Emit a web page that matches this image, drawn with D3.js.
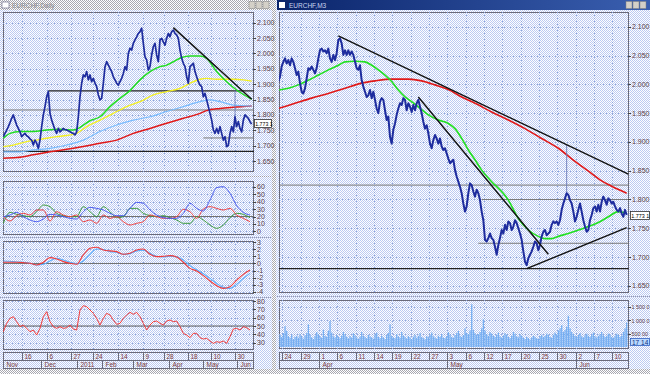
<!DOCTYPE html>
<html><head><meta charset="utf-8">
<script src="https://cdn.jsdelivr.net/npm/d3@7"></script>
<style>body{margin:0;background:#fff}svg{display:block}text{font-family:"Liberation Sans",Arial,sans-serif}</style>
</head><body><svg id="c" width="650" height="374"></svg>
<script>
// ---------------- DATA ----------------
// Left window (daily, Nov 2010 - Jun 2011), price samples on bar index 0..149
const leftClose=[
1.729,1.740,1.750,1.762,1.775,1.789,1.800,1.783,1.767,1.756,
1.745,1.729,1.735,1.740,1.732,1.729,1.722,1.718,1.702,1.718,
1.708,1.691,1.718,1.762,1.800,1.827,1.859,1.876,1.805,1.783,
1.767,1.751,1.740,1.756,1.745,1.750,1.756,1.752,1.751,1.748,
1.745,1.742,1.740,1.735,1.745,1.794,1.859,1.903,1.930,1.924,
1.941,1.914,1.930,1.908,1.919,1.903,1.892,1.865,1.849,1.854,
1.903,1.957,1.973,1.962,1.951,1.941,1.924,1.914,1.903,1.897,
1.908,1.919,1.935,1.957,1.946,2.000,2.017,2.011,2.033,2.044,
2.054,2.065,2.071,2.082,2.033,1.989,1.979,1.946,1.957,1.995,
2.022,2.033,1.995,1.973,2.044,2.049,2.038,2.027,2.049,2.065,
2.054,2.071,2.076,2.065,2.060,2.049,2.011,1.984,1.968,1.957,
1.924,1.903,1.957,1.962,1.968,1.941,1.924,1.908,1.897,1.892,
1.859,1.870,1.849,1.827,1.805,1.783,1.751,1.740,1.756,1.740,
1.762,1.740,1.718,1.729,1.697,1.702,1.740,1.762,1.745,1.794,
1.762,1.778,1.756,1.745,1.783,1.800,1.794,1.789,1.778,1.770];
const leftSpike={bar:139,lo:1.762,hi:1.880};
const maGreenLBars=[0,4,10,18,26,34,42,45,48,52,58,64,70,76,82,88,94,98,102,107,112,118,122,128,134,140,149];
const maGreenL=[1.724,1.740,1.746,1.746,1.751,1.753,1.751,1.756,1.767,1.781,1.794,1.827,1.854,1.879,1.914,1.941,1.957,1.962,1.973,1.987,1.992,1.992,1.984,1.941,1.908,1.881,1.851];
const maYellowLBars=[0,6,14,20,26,32,38,44,50,58,66,74,82,90,98,106,112,118,122,128,138,144,149];
const maYellowL=[1.697,1.702,1.713,1.718,1.724,1.729,1.733,1.740,1.762,1.783,1.805,1.827,1.843,1.865,1.876,1.886,1.903,1.916,1.919,1.916,1.916,1.914,1.910];
const maBlueLBars=[0,10,18,28,38,48,58,68,78,88,98,108,118,124,130,138,149];
const maBlueL=[1.680,1.680,1.686,1.691,1.702,1.718,1.746,1.767,1.783,1.794,1.811,1.827,1.843,1.849,1.843,1.832,1.829];
const maRedLBars=[0,8,18,28,38,48,58,68,78,88,98,108,118,122,130,138,149];
const maRedL=[1.659,1.661,1.670,1.680,1.688,1.697,1.708,1.718,1.740,1.756,1.773,1.789,1.805,1.814,1.821,1.825,1.829];
const trendL=[{bar:102,v:2.084},{bar:149,v:1.851}];
const levelsL=[{v:1.878,from:27,to:149,dark:true},{v:1.816,from:0,to:149,dark:false},{v:1.725,from:120,to:149,dark:false},{v:1.681,from:0,to:149,dark:true}];
const priceTicksL=[2.100,2.050,2.000,1.950,1.900,1.850,1.800,1.750,1.700,1.650];
// indicators (one value every 4 bars for DMI/MACD, every 2 bars for RSI)
const adxBlue=[19.8,22.0,25.6,19.8,15.3,13.0,16.6,22.9,22.0,19.8,17.5,16.6,26.5,32.4,31.0,28.8,24.3,21.1,21.1,31.0,39.1,37.8,28.8,22.0,18.4,17.5,17.5,24.3,37.8,31.0,27.4,42.3,59.0,60.3,51.3,34.6,25.6,22.0];
const adxRed=[19.8,13.9,21.1,24.3,22.0,28.8,28.8,13.9,26.5,22.0,19.8,22.0,13.0,15.3,10.8,22.0,17.5,19.8,13.0,8.5,10.8,13.0,22.0,19.8,17.5,17.5,19.8,29.7,26.5,17.5,30.1,33.3,31.0,28.8,31.0,22.0,17.5,13.0];
const adxGreen=[10.8,25.6,22.9,21.1,19.8,26.5,35.5,33.3,24.3,21.1,19.8,19.8,33.3,26.5,19.8,33.3,26.5,18.4,19.8,31.0,31.0,24.3,21.1,19.8,21.1,18.4,15.3,10.8,10.8,19.8,15.3,8.5,4.0,8.5,18.4,24.3,22.9,18.4];
const adxTicks=[60,50,40,30,20,10,0];
const macdRed=[0.17,0.17,0.17,0.12,0.02,-0.21,0.17,0.83,0.64,0.26,0.02,-0.12,1.21,2.16,2.30,1.92,1.78,1.68,1.30,1.45,1.92,2.06,1.30,0.97,1.02,1.11,0.92,0.17,-0.69,-1.07,-1.73,-2.49,-3.15,-3.53,-3.29,-2.35,-1.54,-0.92];
const macdBlue=[0.36,0.31,0.21,0.17,0.02,-0.21,-0.12,0.36,0.73,0.50,0.17,-0.02,0.36,1.30,2.06,1.97,1.68,1.59,1.30,1.40,1.78,1.87,1.45,1.02,0.92,1.02,0.92,0.50,-0.31,-0.88,-1.45,-2.11,-2.82,-3.39,-3.53,-2.96,-2.11,-1.40];
const macdTicks=[3,2,1,0,-1,-2,-3,-4];
const rsi=[43.2,53.2,59.2,61.2,55.2,49.2,51.2,47.2,43.2,45.2,39.2,47.2,61.2,67.2,55.2,49.2,47.2,49.2,47.2,48.0,51.2,46.4,45.2,69.2,74.4,73.2,69.2,65.2,59.2,51.2,59.2,65.2,63.2,57.2,52.0,53.2,59.2,63.2,66.4,64.0,66.4,61.2,53.2,45.2,51.2,55.2,56.0,53.2,51.2,56.0,57.2,55.2,56.0,49.2,41.2,39.2,36.0,41.2,41.2,36.0,34.4,35.2,32.0,29.2,31.2,30.4,32.0,29.2,37.2,46.4,47.2,45.2,49.2,48.0,45.2];
const rsiTicks=[80,70,60,50,40,30];
const dayTicksL=[{t:"16",bar:11},{t:"6",bar:26},{t:"27",bar:40.4},{t:"24",bar:54},{t:"14",bar:69},{t:"9",bar:83.6},{t:"28",bar:96.4},{t:"18",bar:111},{t:"10",bar:124.4},{t:"30",bar:139}];
const monthTicksL=[{t:"Nov",bar:-0.5},{t:"Dec",bar:22.4},{t:"2011",bar:44.4},{t:"Feb",bar:59.2},{t:"Mar",bar:77.8},{t:"Apr",bar:99.4},{t:"May",bar:119.6},{t:"Jun",bar:140}];

// Right window (EURCHF), bar index 0..209
const rightClose=[
2.005,2.013,2.031,2.039,2.045,2.036,2.042,2.033,2.045,2.039,
2.028,2.016,2.022,2.002,1.987,1.984,1.993,2.010,2.028,2.025,
2.031,2.025,2.019,2.028,2.045,2.059,2.062,2.057,2.059,2.054,
2.062,2.045,2.039,2.051,2.042,2.054,2.077,2.080,2.071,2.051,
2.059,2.051,2.059,2.051,2.057,2.051,2.039,2.028,2.025,2.033,
2.007,1.996,1.987,1.978,1.981,1.990,1.976,1.987,1.973,1.958,
1.950,1.970,1.976,1.973,1.955,1.938,1.944,1.909,1.897,1.921,
1.932,1.947,1.958,1.967,1.964,1.976,1.973,1.955,1.967,1.961,
1.952,1.964,1.955,1.967,1.973,1.961,1.950,1.935,1.923,1.929,
1.915,1.897,1.889,1.903,1.912,1.906,1.897,1.906,1.892,1.886,
1.889,1.880,1.871,1.863,1.866,1.869,1.851,1.840,1.831,1.822,
1.811,1.793,1.779,1.788,1.811,1.828,1.825,1.814,1.805,1.817,
1.811,1.799,1.779,1.764,1.730,1.727,1.733,1.741,1.733,1.730,
1.718,1.704,1.721,1.733,1.747,1.741,1.756,1.747,1.762,1.759,
1.747,1.753,1.764,1.759,1.750,1.741,1.730,1.710,1.692,1.686,
1.698,1.704,1.710,1.718,1.727,1.724,1.712,1.721,1.736,1.744,
1.747,1.738,1.741,1.744,1.756,1.762,1.759,1.762,1.756,1.764,
1.782,1.793,1.802,1.811,1.808,1.799,1.793,1.779,1.762,1.770,
1.782,1.793,1.779,1.764,1.753,1.744,1.747,1.764,1.773,1.785,
1.788,1.779,1.791,1.779,1.796,1.805,1.799,1.791,1.802,1.799,
1.793,1.796,1.788,1.782,1.779,1.785,1.776,1.770,1.782,1.773];
const rightSpike={bar:173,lo:1.808,hi:1.895};
const maGreenRBars=[0,6,12,18,24,30,36,40,46,52,56,60,64,68,72,76,80,84,90,96,102,106,110,114,118,122,127,138,144,150,156,160,164,168,174,180,186,192,198,204,209];
const maGreenR=[1.990,1.993,1.999,2.007,2.016,2.025,2.033,2.039,2.040,2.039,2.033,2.025,2.016,2.005,1.990,1.978,1.970,1.961,1.947,1.938,1.932,1.923,1.906,1.886,1.869,1.851,1.834,1.799,1.767,1.747,1.736,1.732,1.732,1.736,1.741,1.747,1.753,1.760,1.770,1.779,1.776];
const maRedRBars=[0,10,20,30,40,50,58,68,78,86,94,102,110,118,128,138,148,158,168,178,188,193,200,209];
const maRedR=[1.958,1.967,1.976,1.984,1.993,2.002,2.006,2.009,2.009,2.006,1.999,1.991,1.978,1.967,1.952,1.938,1.923,1.906,1.889,1.866,1.845,1.834,1.823,1.811];
const trendsR=[[{bar:36,v:2.084},{bar:210,v:1.844}],[{bar:84,v:1.978},{bar:162,v:1.705}],[{bar:149,v:1.680},{bar:209,v:1.751}]];
const levelsR=[{v:1.825,from:0,to:209,dark:false},{v:1.800,from:122,to:209,dark:false},{v:1.724,from:120,to:209,dark:false},{v:1.680,from:0,to:209,dark:true}];
const priceTicksR=[2.100,2.050,2.000,1.950,1.900,1.850,1.800,1.750,1.700,1.650];
const volume=[
320,450,380,520,780,600,410,350,460,300,
380,420,350,480,390,310,440,520,850,460,
360,300,420,560,480,390,340,650,420,380,
610,980,540,400,360,450,380,330,420,560,
470,380,320,410,350,520,440,360,300,390,
560,420,380,330,450,400,360,310,470,540,
380,330,420,360,300,450,520,850,410,360,
330,480,400,350,560,430,380,320,410,360,
300,390,460,350,420,520,380,330,290,410,
370,450,540,400,360,310,420,380,480,350,
330,410,560,470,380,340,450,520,600,420,
380,450,700,520,480,620,1600,640,520,450,
480,560,700,1040,620,480,420,560,500,420,
380,460,540,400,350,430,520,460,380,330,
420,560,500,400,360,480,420,350,300,380,
340,280,360,420,380,330,300,400,460,380,
420,500,460,380,340,460,540,480,620,700,
820,560,640,760,1170,700,560,480,420,380,
450,520,400,360,440,500,420,380,460,540,
400,360,420,480,560,440,380,420,500,460,
380,340,420,500,450,380,420,560,700,920];
// volume axis labels as they show at the window edge
const volTicks=[{v:1500,t:"1 500 0"},{v:1000,t:"1 000 0"},{v:500,t:"500 00"}];
const dayTicksR=["24","29","1","6","11","14","19","22","27","3","6","12","17","20","25","30","2","7","10"];
const dayTicksRBar=[2.4,13.4,24.4,35.4,46.4,57.4,68.4,79.4,90.4,101.4,112.4,123.4,134.4,145.4,156.4,167.4,178.4,189.4,200.4];
const monthTicksR=[{t:"Apr",i:2},{t:"May",i:9},{t:"Jun",i:16}];
const lastPrice="1.773 1", lastVol="17 14";

// ---------------- DRAW ----------------
const svg=d3.select("#c");
const defs=svg.append("defs");
function checker(id,a,b){const p=defs.append("pattern").attr("id",id).attr("width",2).attr("height",2).attr("patternUnits","userSpaceOnUse");
 p.append("rect").attr("width",2).attr("height",2).attr("fill",a);
 p.append("rect").attr("width",1).attr("height",1).attr("fill",b);
 p.append("rect").attr("x",1).attr("y",1).attr("width",1).attr("height",1).attr("fill",b);}
checker("dith","#ffffff","#bccaf2");
checker("gray","#ffffff","#a8a8b0");
const grad=defs.append("linearGradient").attr("id","tb");
grad.append("stop").attr("offset","0").attr("stop-color","#0a246a");
grad.append("stop").attr("offset","1").attr("stop-color","#3a5fb0");

svg.append("rect").attr("width",650).attr("height",374).attr("fill","url(#dith)");

let clipN=0;
function frame(x0,y0,x1,y1){
  const id="cp"+(clipN++);
  defs.append("clipPath").attr("id",id).append("rect").attr("x",x0).attr("y",y0).attr("width",x1-x0).attr("height",y1-y0);
  svg.append("rect").attr("x",x0+.5).attr("y",y0+.5).attr("width",x1-x0-1).attr("height",y1-y0-1).attr("fill","url(#dith)").attr("stroke","#6a6a7a");
  return svg.append("g").attr("clip-path",`url(#${id})`);
}
function grid(g,xs,ys,xTicks,yTicks,x0,x1,y0,y1){
  yTicks.forEach(v=>g.append("line").attr("x1",x0).attr("x2",x1).attr("y1",Math.round(ys(v))+.5).attr("y2",Math.round(ys(v))+.5).attr("stroke","#8fa6d8").attr("stroke-dasharray","1,2"));
  xTicks.forEach(b=>g.append("line").attr("x1",Math.round(xs(b))+.5).attr("x2",Math.round(xs(b))+.5).attr("y1",y0).attr("y2",y1).attr("stroke","#8fa6d8").attr("stroke-dasharray","1,2"));
}
function yLabels(ys,ticks,x,fmt){
  ticks.forEach(v=>{const y=ys(typeof v==="object"?v.v:v);
    svg.append("line").attr("x1",x-1).attr("x2",x+2).attr("y1",Math.round(y)+.5).attr("y2",Math.round(y)+.5).attr("stroke","#444");
    svg.append("text").attr("x",x+3).attr("y",y+2.5).attr("font-size",7).attr("fill","#5a4048").text(fmt(v));});
}
function path(g,xs,ys,vals,bars,color,w,curve){
  g.append("path").datum(vals).attr("fill","none").attr("stroke",color).attr("stroke-width",w).attr("stroke-linejoin","round")
   .attr("d",d3.line().x((d,i)=>xs(bars?bars[i]:i)).y(d=>ys(d)).curve(curve||d3.curveLinear));
}
const f3=d3.format(".3f");

// ===== Left window =====
svg.append("rect").attr("x",0).attr("y",0).attr("width",272).attr("height",10).attr("fill","url(#gray)");
svg.append("rect").attr("x",2).attr("y",2).attr("width",7).attr("height",6).attr("fill","#fff").attr("stroke","#606080").attr("stroke-width",.6);
svg.append("text").attr("x",12).attr("y",8).attr("font-size",6.5).attr("fill","#8a8a90").text("EURCHF,Daily");
[249,256,263].forEach(x=>svg.append("rect").attr("x",x).attr("y",1.5).attr("width",6).attr("height",7).attr("fill","#d4d0c8").attr("stroke","#808080").attr("stroke-width",.5));
// window splitter
svg.append("rect").attr("x",272).attr("y",0).attr("width",4).attr("height",374).attr("fill","url(#gray)");

const xL=d3.scaleLinear().domain([0,149]).range([3.33,251.67]);
const dayBarsL=dayTicksL.map(d=>d.bar);
// main price
const yLp=d3.scaleLinear().domain([1.65,2.1]).range([161,22.7]);
let g=frame(3,12,254,172);
grid(g,xL,yLp,dayBarsL,priceTicksL,3,254,12,172);
levelsL.forEach(l=>g.append("line").attr("x1",xL(l.from)).attr("x2",xL(l.to)+3).attr("y1",yLp(l.v)).attr("y2",yLp(l.v)).attr("stroke",l.dark?"#202020":"#7a7a7a").attr("stroke-width",l.dark?1.3:1));
path(g,xL,yLp,maRedL,maRedLBars,"#e01818",1.5,d3.curveMonotoneX);
path(g,xL,yLp,maBlueL,maBlueLBars,"#78bcff",1.2,d3.curveMonotoneX);
path(g,xL,yLp,maYellowL,maYellowLBars,"#f4f020",1.3,d3.curveMonotoneX);
path(g,xL,yLp,maGreenL,maGreenLBars,"#20dd20",1.5,d3.curveMonotoneX);
g.append("line").attr("x1",xL(leftSpike.bar)).attr("x2",xL(leftSpike.bar)).attr("y1",yLp(leftSpike.hi)).attr("y2",yLp(leftSpike.lo)).attr("stroke","#6a7ab8").attr("stroke-width",.8);
path(g,xL,yLp,leftClose,null,"#1e2c9e",1.7);
g.append("line").attr("x1",xL(trendL[0].bar)).attr("y1",yLp(trendL[0].v)).attr("x2",xL(trendL[1].bar)).attr("y2",yLp(trendL[1].v)).attr("stroke","#111").attr("stroke-width",1.4);
yLabels(yLp,priceTicksL,254,f3);
svg.append("rect").attr("x",254.5).attr("y",119.5).attr("width",17).attr("height",8).attr("fill","#fff").attr("stroke","#303030").attr("stroke-width",.8);
svg.append("text").attr("x",255.3).attr("y",125.8).attr("font-size",5.2).attr("fill","#000").text(lastPrice);

// splitters
[176.5,237.5,297.5].forEach(y=>{svg.append("line").attr("x1",0).attr("x2",272).attr("y1",y).attr("y2",y).attr("stroke","#9a9aaa").attr("stroke-dasharray","1,1");});

const barsEvery=(n,s)=>d3.range(n).map(i=>i*s);
// DMI
const yAdx=d3.scaleLinear().domain([0,60]).range([231.3,186.9]);
g=frame(3,181,254,235);
grid(g,xL,yAdx,dayBarsL,adxTicks,3,254,181,235);
g.append("line").attr("x1",3).attr("x2",254).attr("y1",yAdx(20)).attr("y2",yAdx(20)).attr("stroke","#707070");
const b4=barsEvery(38,4);
path(g,xL,yAdx,adxGreen,b4,"#3a9a3a",1,d3.curveMonotoneX);
path(g,xL,yAdx,adxRed,b4,"#f04040",1,d3.curveMonotoneX);
path(g,xL,yAdx,adxBlue,b4,"#4a5cf0",1,d3.curveMonotoneX);
yLabels(yAdx,adxTicks,254,d=>d);

// MACD
const yMacd=d3.scaleLinear().domain([-4,3]).range([291.7,242.3]);
g=frame(3,241,254,294);
grid(g,xL,yMacd,dayBarsL,macdTicks,3,254,241,294);
g.append("line").attr("x1",3).attr("x2",254).attr("y1",yMacd(0)).attr("y2",yMacd(0)).attr("stroke","#707070");
path(g,xL,yMacd,macdBlue,b4,"#5aaeff",1.1,d3.curveMonotoneX);
path(g,xL,yMacd,macdRed,b4,"#f03a3a",1.1,d3.curveMonotoneX);
yLabels(yMacd,macdTicks,254,d=>d);

// RSI
const yRsi=d3.scaleLinear().domain([30,80]).range([342.7,301]);
g=frame(3,300,254,350);
grid(g,xL,yRsi,dayBarsL,rsiTicks,3,254,300,350);
g.append("line").attr("x1",3).attr("x2",254).attr("y1",yRsi(50)).attr("y2",yRsi(50)).attr("stroke","#606060");
path(g,xL,yRsi,rsi,barsEvery(75,2),"#f03a3a",1);
yLabels(yRsi,rsiTicks,254,d=>d);

// date axis
function dateAxis(xs,x0,x1,y0,days,months){
  svg.append("rect").attr("x",x0+.5).attr("y",y0+.5).attr("width",x1-x0-1).attr("height",16).attr("fill","url(#dith)").attr("stroke","#6a6a7a");
  svg.append("line").attr("x1",x0).attr("x2",x1).attr("y1",y0+8.5).attr("y2",y0+8.5).attr("stroke","#6a6a7a");
  days.forEach(d=>{const x=Math.round(xs(d.bar))+.5;
    svg.append("line").attr("x1",x).attr("x2",x).attr("y1",y0).attr("y2",y0+8.5).attr("stroke","#6a6a7a");
    svg.append("text").attr("x",x+2).attr("y",y0+7).attr("font-size",6.5).attr("fill","#7a3a3a").text(d.t);});
  months.forEach(d=>{const x=Math.max(x0,Math.round(xs(d.bar)))+.5;
    svg.append("line").attr("x1",x).attr("x2",x).attr("y1",y0+8.5).attr("y2",y0+16.5).attr("stroke","#6a6a7a");
    svg.append("text").attr("x",x+3).attr("y",y0+15.3).attr("font-size",6.5).attr("fill","#7a3a3a").text(d.t);});
}
dateAxis(xL,3,254,352,dayTicksL,monthTicksL);

// ===== Right window =====
svg.append("rect").attr("x",277).attr("y",0).attr("width",373).attr("height",10).attr("fill","url(#tb)");
svg.append("rect").attr("x",279).attr("y",2).attr("width",6).attr("height",6).attr("fill","#fff");
svg.append("text").attr("x",289).attr("y",8).attr("font-size",6.5).attr("fill","#c8d4f0").text("EURCHF,M3");
[626,633,640].forEach(x=>svg.append("rect").attr("x",x).attr("y",1.5).attr("width",6).attr("height",7).attr("fill","#d4d0c8").attr("stroke","#808080").attr("stroke-width",.5));

const xR=d3.scaleLinear().domain([0,209]).range([278.33,626.67]);
const yRp=d3.scaleLinear().domain([1.65,2.1]).range([285.9,26.7]);
g=frame(279,12,629,293);
grid(g,xR,yRp,dayTicksRBar,priceTicksR,279,629,12,293);
levelsR.forEach(l=>g.append("line").attr("x1",xR(l.from)).attr("x2",xR(l.to)+2).attr("y1",yRp(l.v)).attr("y2",yRp(l.v)).attr("stroke",l.dark?"#202020":"#7a7a7a").attr("stroke-width",l.dark?1.3:1));
path(g,xR,yRp,maRedR,maRedRBars,"#e01818",1.6,d3.curveMonotoneX);
path(g,xR,yRp,maGreenR,maGreenRBars,"#20e020",1.6,d3.curveMonotoneX);
g.append("line").attr("x1",xR(rightSpike.bar)).attr("x2",xR(rightSpike.bar)).attr("y1",yRp(rightSpike.hi)).attr("y2",yRp(rightSpike.lo)).attr("stroke","#6a7ab8").attr("stroke-width",.9);
path(g,xR,yRp,rightClose,null,"#1e2c9e",2);
trendsR.forEach(t=>g.append("line").attr("x1",xR(t[0].bar)).attr("y1",yRp(t[0].v)).attr("x2",xR(t[1].bar)).attr("y2",yRp(t[1].v)).attr("stroke","#111").attr("stroke-width",1.4));
yLabels(yRp,priceTicksR,629,f3);
svg.append("rect").attr("x",630.5).attr("y",211.5).attr("width",19).attr("height",8).attr("fill","#fff").attr("stroke","#303030").attr("stroke-width",.8);
svg.append("text").attr("x",631.2).attr("y",217.8).attr("font-size",5.4).attr("fill","#000").text(lastPrice);

svg.append("line").attr("x1",277).attr("x2",650).attr("y1",296.5).attr("y2",296.5).attr("stroke","#9a9aaa").attr("stroke-dasharray","1,1");
// volume
const yVol=d3.scaleLinear().domain([0,1500]).range([347,307]);
g=frame(279,300,629,349);
grid(g,xR,yVol,dayTicksRBar,volTicks.map(d=>d.v),279,629,300,349);
g.selectAll("rect.v").data(volume).join("rect").attr("x",(d,i)=>xR(i)-0.6).attr("width",1.3).attr("y",d=>yVol(d)).attr("height",d=>yVol(0)-yVol(d)).attr("fill","#74aef2");
volTicks.forEach(d=>{const y=yVol(d.v);
  svg.append("line").attr("x1",628).attr("x2",631).attr("y1",Math.round(y)+.5).attr("y2",Math.round(y)+.5).attr("stroke","#444");
  svg.append("text").attr("x",631.5).attr("y",y+2.3).attr("font-size",5.4).attr("fill","#5a4048").text(d.t);});
svg.append("rect").attr("x",630.5).attr("y",338.5).attr("width",19).attr("height",7).attr("fill","#b8d8ff").attr("stroke","#3060c0").attr("stroke-width",.8);
svg.append("text").attr("x",632).attr("y",344.5).attr("font-size",6.5).attr("fill","#103080").text(lastVol);

dateAxis(xR,279,629,352,dayTicksR.map((t,i)=>({t,bar:dayTicksRBar[i]})),monthTicksR.map(m=>({t:m.t,bar:dayTicksRBar[m.i]})));

// bottom strip
svg.append("rect").attr("x",0).attr("y",369).attr("width",650).attr("height",5).attr("fill","url(#gray)");
</script></body></html>
